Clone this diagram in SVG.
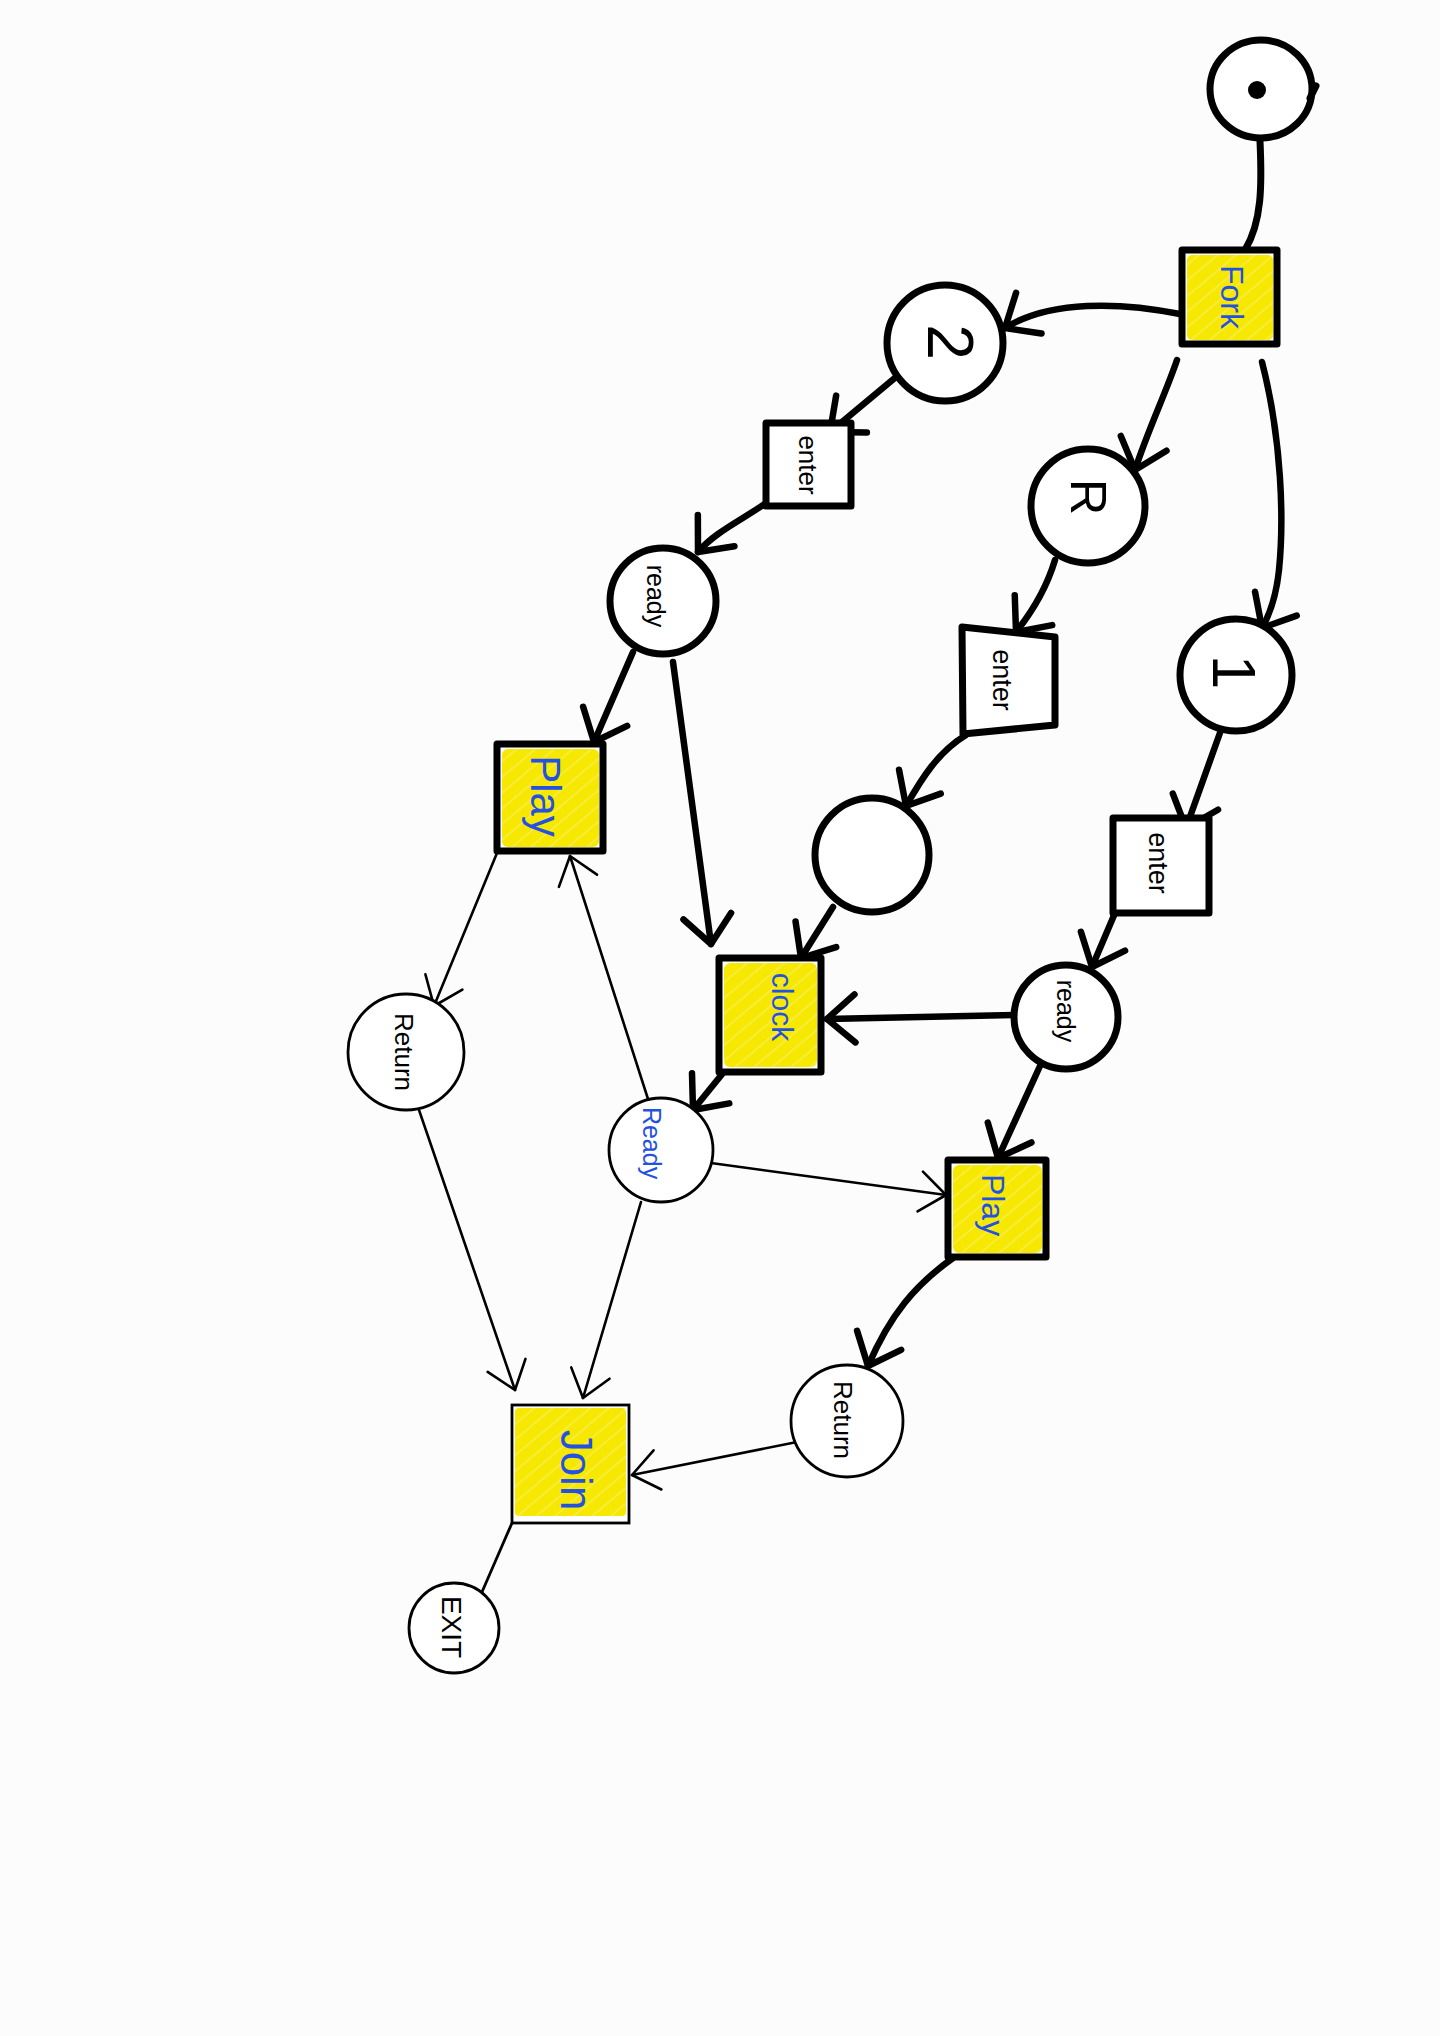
<svg xmlns="http://www.w3.org/2000/svg" width="1440" height="2036" viewBox="0 0 1440 2036">
<defs>
<style>
.bg{fill:#fcfcfc}
.tk{fill:none;stroke:#000;stroke-width:7;stroke-linecap:round;stroke-linejoin:round}
.tn{fill:none;stroke:#000;stroke-width:2.8;stroke-linecap:round;stroke-linejoin:round}
.nodeT{fill:#fff;stroke:#000;stroke-width:7;stroke-linejoin:round}
.nodeN{fill:#fff;stroke:#000;stroke-width:2.8}
.hi{fill:url(#hatch)}
.lb{font-family:"Liberation Sans",Arial,sans-serif;text-anchor:middle;dominant-baseline:central;fill:#000}
.blue{fill:#2452e0}
.ct{fill:none;stroke:#000;stroke-width:6.5;stroke-linecap:round;stroke-linejoin:round;marker-end:url(#ahT)}
.cn{fill:none;stroke:#000;stroke-width:2.6;stroke-linecap:round;stroke-linejoin:round;marker-end:url(#ahN)}
</style>
<pattern id="hatch" patternUnits="userSpaceOnUse" width="12" height="12" patternTransform="rotate(-40)">
<rect width="12" height="12" fill="#f6e800"/>
<line x1="0" y1="6" x2="12" y2="6" stroke="#f9ef60" stroke-width="1.2"/>
</pattern>
<marker id="ahT" markerUnits="userSpaceOnUse" viewBox="-40 -40 80 80" markerWidth="80" markerHeight="80" refX="0" refY="0" orient="auto" overflow="visible">
<path d="M-28,-24 L0,0 L-28,24" fill="none" stroke="#000" stroke-width="6.5" stroke-linecap="round" stroke-linejoin="round"/>
</marker>
<marker id="ahN" markerUnits="userSpaceOnUse" viewBox="-40 -40 80 80" markerWidth="80" markerHeight="80" refX="0" refY="0" orient="auto" overflow="visible">
<path d="M-26,-20 L0,0 L-26,20" fill="none" stroke="#000" stroke-width="2.6" stroke-linecap="round" stroke-linejoin="round"/>
</marker>
</defs>
<rect class="bg" x="0" y="0" width="1440" height="2036"/>

<g id="connectors">
<path class="tk" d="M1260,141 C1262,185 1262,222 1245,250"/>
<path class="ct" d="M1180,314 C1120,302 1050,300 1005,328"/>
<path class="ct" d="M1177,360 C1165,395 1148,430 1135,470"/>
<path class="ct" d="M1262,362 C1282,440 1284,520 1279,570 C1276,598 1270,614 1262,628"/>
<path class="ct" d="M896,377 L830,432"/>
<path class="ct" d="M766,503 C742,520 715,532 698,552"/>
<path class="ct" d="M633,652 L594,742"/>
<path class="ct" d="M673,662 L711,944"/>
<path class="ct" d="M1055,560 C1046,590 1032,612 1016,632"/>
<path class="ct" d="M966,735 C938,752 922,778 906,806"/>
<path class="ct" d="M833,907 L801,958"/>
<path class="ct" d="M1221,730 L1186,828"/>
<path class="ct" d="M1115,913 L1092,967"/>
<path class="ct" d="M1014,1015 L827,1019"/>
<path class="ct" d="M1040,1066 L998,1158"/>
<path class="ct" d="M723,1073 L693,1110"/>
<path class="cn" d="M711,1163 L946,1195"/>
<path class="cn" d="M648,1099 L570,856"/>
<path class="cn" d="M497,853 L434,1006"/>
<path class="cn" d="M419,1110 L515,1390"/>
<path class="cn" d="M641,1202 L583,1398"/>
<path class="ct" d="M953,1258 C915,1285 890,1315 868,1366"/>
<path class="cn" d="M797,1442 L632,1475"/>
<path class="tn" d="M512,1523 L482,1592"/>
</g>

<g id="start">
<ellipse class="nodeT" cx="1261" cy="89" rx="51" ry="49"/>
<path class="tk" d="M1310,98 L1316,86"/>
<circle cx="1257" cy="90" r="9" fill="#000"/>
</g>

<g id="fork">
<rect class="nodeT" x="1182" y="250" width="95" height="94"/>
<rect class="hi" x="1187" y="255" width="86" height="85" rx="5"/>
<text class="lb blue" font-size="32" transform="translate(1232,297) rotate(90)">Fork</text>
</g>

<g id="place2">
<circle class="nodeT" cx="945" cy="343" r="58"/>
<text class="lb" font-size="64" transform="translate(950,342) rotate(90)">2</text>
</g>

<g id="placeR">
<circle class="nodeT" cx="1088" cy="506" r="57"/>
<text class="lb" font-size="50" transform="translate(1088,497) rotate(90)">R</text>
</g>

<g id="place1">
<circle class="nodeT" cx="1236" cy="675" r="56"/>
<text class="lb" font-size="62" transform="translate(1234,672) rotate(90)">1</text>
</g>

<g id="enter2">
<rect class="nodeT" x="766" y="423" width="85" height="83"/>
<text class="lb" font-size="26" transform="translate(808,465) rotate(90)">enter</text>
</g>

<g id="readyTop">
<circle class="nodeT" cx="663" cy="601" r="53"/>
<text class="lb" font-size="25" transform="translate(656,596) rotate(90)">ready</text>
</g>

<g id="playLeft">
<rect class="nodeT" x="497" y="744" width="106" height="107"/>
<rect class="hi" x="502" y="749" width="97" height="98" rx="6"/>
<text class="lb blue" font-size="42" transform="translate(545,796) rotate(90)">Play</text>
</g>

<g id="enterR">
<polygon class="nodeT" points="962,627 1055,637 1055,725 963,734"/>
<text class="lb" font-size="27" transform="translate(1002,680) rotate(90)">enter</text>
</g>

<g id="placeEmpty">
<circle class="nodeT" cx="872" cy="855" r="57"/>
</g>

<g id="enter1">
<rect class="nodeT" x="1113" y="818" width="96" height="95"/>
<text class="lb" font-size="27" transform="translate(1158,863) rotate(90)">enter</text>
</g>

<g id="readyRight">
<circle class="nodeT" cx="1066" cy="1017" r="52"/>
<text class="lb" font-size="25" transform="translate(1066,1011) rotate(90)">ready</text>
</g>

<g id="clock">
<rect class="nodeT" x="719" y="958" width="102" height="114"/>
<rect class="hi" x="724" y="963" width="93" height="104" rx="6"/>
<text class="lb blue" font-size="30" transform="translate(782,1007) rotate(90)">clock</text>
</g>

<g id="readyBlue">
<circle class="nodeN" cx="661" cy="1150" r="52"/>
<text class="lb blue" font-size="25" transform="translate(652,1143) rotate(90)">Ready</text>
</g>

<g id="playRight">
<rect class="nodeT" x="948" y="1160" width="98" height="97"/>
<rect class="hi" x="953" y="1165" width="89" height="88" rx="6"/>
<text class="lb blue" font-size="32" transform="translate(993,1205) rotate(90)">Play</text>
</g>

<g id="returnLeft">
<circle class="nodeN" cx="406" cy="1052" r="58"/>
<text class="lb" font-size="26" transform="translate(404,1052) rotate(90)">Return</text>
</g>

<g id="returnRight">
<circle class="nodeN" cx="847" cy="1421" r="56"/>
<text class="lb" font-size="26" transform="translate(843,1420) rotate(90)">Return</text>
</g>

<g id="join">
<rect class="nodeN" x="512" y="1405" width="117" height="118"/>
<rect class="hi" x="515" y="1408" width="111" height="108" rx="4"/>
<text class="lb blue" font-size="44" transform="translate(576,1470) rotate(90)">Join</text>
</g>

<g id="exit">
<circle class="nodeN" cx="454" cy="1628" r="45"/>
<text class="lb" font-size="28" transform="translate(451,1627) rotate(90)">EXIT</text>
</g>
</svg>
